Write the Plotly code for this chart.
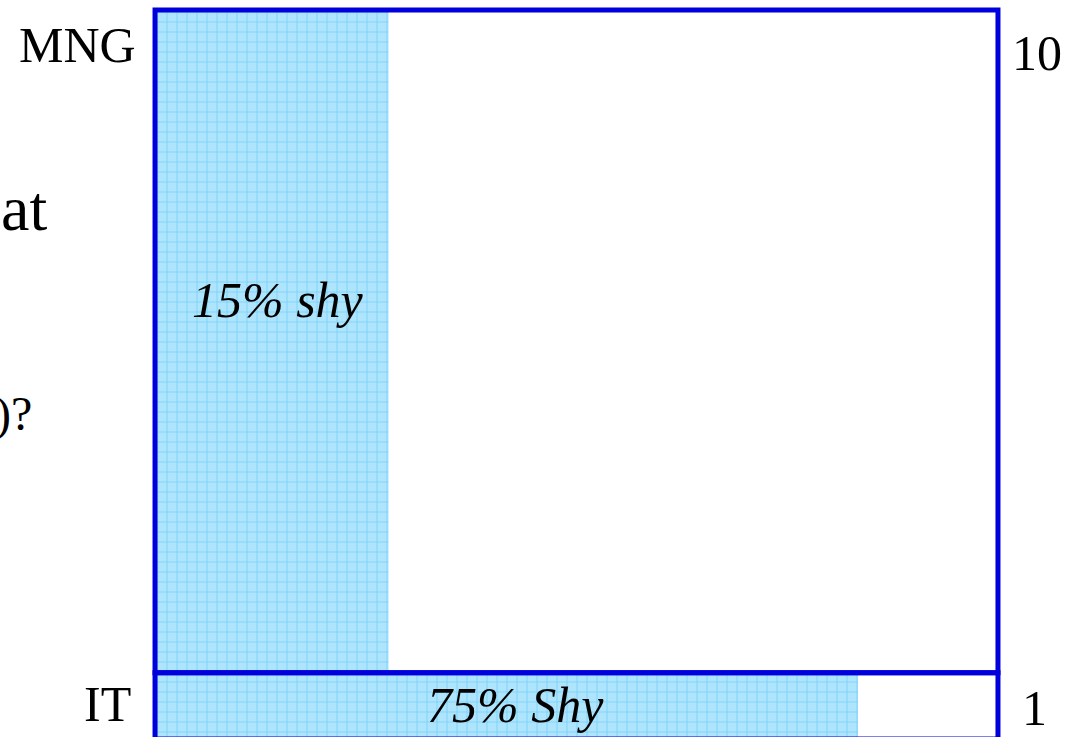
import plotly.graph_objects as go

# mosaic rows: label, row height (weight), shy share
rows = ["IT", "MNG"]
weights = [1, 10]
shy_share = [0.834, 0.277]
shy_labels = ["75% Shy", "15% shy"]

# row boundaries on the y scale
bottoms = [0, 1]
centers = [b + w / 2 for b, w in zip(bottoms, weights)]

fill_style = dict(
    color="#aee6fd",
    pattern=dict(shape="+", fgcolor="#55c2f6", bgcolor="#aee5fc", size=10, solidity=0.2),
    line=dict(width=0),
)

fig = go.Figure()

# shaded share of each row
fig.add_bar(
    x=shy_share,
    y=centers,
    width=weights,
    orientation="h",
    marker=fill_style,
    hoverinfo="skip",
)

# full-row outlines
fig.add_bar(
    x=[1] * len(rows),
    y=centers,
    width=weights,
    orientation="h",
    marker=dict(color="rgba(0,0,0,0)", line=dict(color="#0000dd", width=5)),
    hoverinfo="skip",
)

serif = "Times New Roman, Liberation Serif, serif"

# text inside the shaded parts
label_y = [0.52, 6.62]
label_x = [0.428, 0.146]
for x, y, txt in zip(label_x, label_y, shy_labels):
    fig.add_annotation(
        x=x, y=y, text=f"<i>{txt}</i>",
        showarrow=False, font=dict(family=serif, size=50, color="black"),
    )

# row names on the left, weights on the right
name_y = [0.53, 10.47]
name_shift = [-22, -17]
weight_y = [0.47, 10.35]
for name, w, ny, ns, wy in zip(rows, weights, name_y, name_shift, weight_y):
    fig.add_annotation(
        x=0, y=ny, text=name, xanchor="right", xshift=ns,
        showarrow=False, font=dict(family=serif, size=50, color="black"),
    )
    fig.add_annotation(
        x=1, y=wy, text=str(w), xanchor="left", xshift=12 if w > 1 else 22,
        showarrow=False, font=dict(family=serif, size=50, color="black"),
    )

# bits of slide text cut off at the left edge
fig.add_annotation(
    x=0, y=8.0, xanchor="right", yanchor="middle",
    xshift=-106, text="at", showarrow=False,
    font=dict(family=serif, size=64, color="black"),
)
fig.add_annotation(
    x=0, y=4.9, xanchor="right", yanchor="middle",
    xshift=-121, text=")?", showarrow=False,
    font=dict(family=serif, size=48, color="black"),
)

# ranges padded a little so the outer border is not clipped;
# the bottom edge of the IT row falls just below the window
fig.update_layout(
    width=1067,
    height=737,
    margin=dict(l=152, r=66, t=7, b=0),
    plot_bgcolor="white",
    paper_bgcolor="white",
    showlegend=False,
    barmode="overlay",
)
fig.update_xaxes(range=[-0.0036, 1.0036], visible=False, fixedrange=True)
fig.update_yaxes(range=[0.03, 11.045], visible=False, fixedrange=True)

fig.write_html(
    "out.html",
    config={"displayModeBar": False},
    post_script="document.body.style.margin='0';document.body.style.overflow='hidden';",
)
